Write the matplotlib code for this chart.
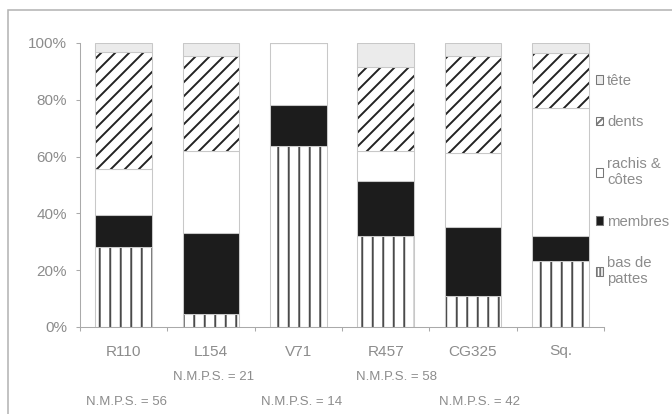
import numpy as np
import matplotlib.pyplot as plt
from matplotlib.patches import Patch, Rectangle

plt.rcParams['font.family'] = ['Liberation Sans', 'DejaVu Sans']
plt.rcParams['hatch.linewidth'] = 1.1

# percentages, bottom to top
categories = ['R110', 'L154', 'V71', 'R457', 'CG325', 'Sq.']
bas_de_pattes = [28.0, 4.5, 63.8, 32.0, 10.9, 23.3]
membres = [11.3, 28.5, 14.4, 19.5, 24.4, 8.7]
rachis_cotes = [16.2, 28.8, 21.8, 10.6, 26.1, 45.1]
dents = [41.2, 33.7, 0.0, 29.4, 33.9, 19.4]
tete = [3.3, 4.5, 0.0, 8.5, 4.7, 3.5]

nmps = [56, 21, 14, 58, 42]
nmps_row = [1, 0, 1, 0, 1]          # 0 = upper line, 1 = lower line
label_dx = [0.03, 0.03, 0.04, 0.12, 0.08]

grey = '#8c8c8c'
# values, label, face, hatch in bars, hatch in legend key, hatch colour
layers = [
    (bas_de_pattes, 'bas de\npattes', 'white', '||', '||||||', '#4a4a4a'),
    (membres, 'membres', '#1c1c1c', None, None, '#1c1c1c'),
    (rachis_cotes, 'rachis &\ncôtes', 'white', None, None, '#c8c8c8'),
    (dents, 'dents', 'white', '///', '//////', '#222222'),
    (tete, 'tête', '#ebebeb', None, None, '#c8c8c8'),
]

fig = plt.figure(figsize=(672 / 126, 414 / 126), dpi=126)
ax = fig.add_axes([80 / 672, 87 / 414, 524 / 672, 284 / 414])

x = np.arange(len(categories))
bottom = np.zeros(len(categories))
handles = []
for vals, label, face, hatch, key_hatch, hcol in layers:
    vals = np.array(vals)
    ax.bar(x, vals, 0.65, bottom=bottom, color=face, hatch=hatch,
           edgecolor=hcol, linewidth=0)
    ax.bar(x, vals, 0.65, bottom=bottom, color='none',
           edgecolor='#c8c8c8', linewidth=0.6)
    bottom += vals
    handles.append(Patch(facecolor=face, edgecolor='#777777', hatch=key_hatch,
                         linewidth=0.6, label=label))

ax.set_xlim(-0.5, len(categories) - 0.5)
ax.set_ylim(0, 100)
ax.set_yticks([0, 20, 40, 60, 80, 100])
ax.set_yticklabels(['0%', '20%', '40%', '60%', '80%', '100%'])
ax.set_xticks(x)
ax.set_xticklabels(categories)
ax.set_xticks(np.arange(-0.5, len(categories)), minor=True)
ax.tick_params(axis='x', which='major', length=0, pad=10, labelsize=8.8, labelcolor=grey)
ax.tick_params(axis='x', which='minor', length=2.5, color='#aaaaaa', width=0.6)
ax.tick_params(axis='y', length=2.5, color='#aaaaaa', width=0.6, pad=5,
               labelsize=8.7, labelcolor=grey)
for side in ['top', 'right']:
    ax.spines[side].set_visible(False)
for side in ['left', 'bottom']:
    ax.spines[side].set_color('#aaaaaa')
    ax.spines[side].set_linewidth(0.6)

for i, n in enumerate(nmps):
    y = -0.175 if nmps_row[i] == 0 else -0.263
    ax.text(i + label_dx[i], y, 'N.M.P.S. = %d' % n, transform=ax.get_xaxis_transform(),
            ha='center', va='center', fontsize=7.6, color=grey)

leg = ax.legend(handles=handles[::-1], loc='upper left',
                bbox_to_anchor=(590 / 672, (414 - 68) / 414),
                bbox_transform=fig.transFigure, frameon=False,
                fontsize=8.5, labelcolor=grey, handlelength=0.5, handleheight=0.5,
                handletextpad=0.25, labelspacing=1.85, borderaxespad=0)

fig.patches.append(Rectangle((8 / 672, -0.1), 1.0, (414 - 10) / 414 + 0.1,
                             transform=fig.transFigure, fill=False,
                             edgecolor='#b4b4b4', linewidth=0.9))

fig.savefig('out.png', dpi=126)
